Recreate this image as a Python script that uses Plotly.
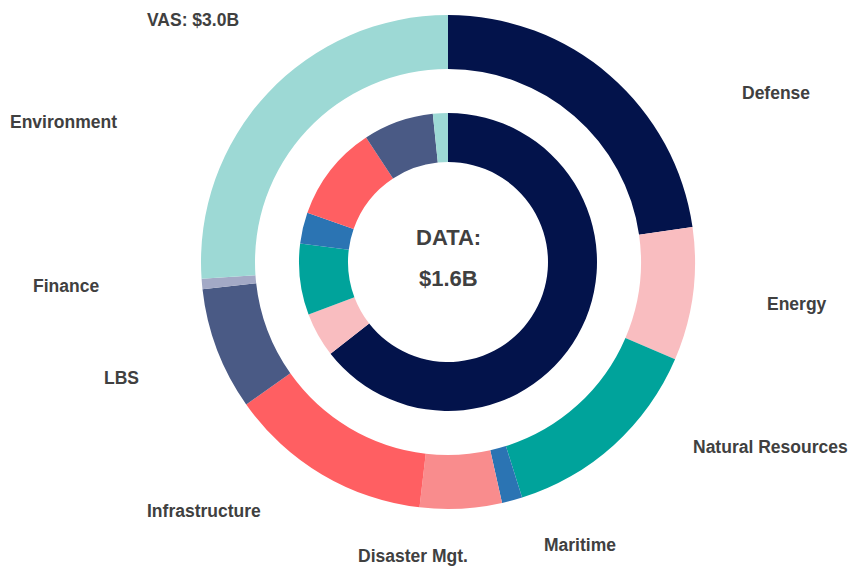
import plotly.graph_objects as go

W, H = 849, 569

categories = ["Defense", "Energy", "Natural Resources", "Maritime", "Disaster Mgt.",
              "Infrastructure", "LBS", "Finance", "Environment"]
vas_values = [0.68, 0.26, 0.41, 0.04, 0.16, 0.40, 0.24, 0.02, 0.78]      # $B, outer ring (VAS: $3.0B)
data_values = [1.03, 0.077, 0.123, 0.054, 0.0, 0.166, 0.122, 0.0, 0.026]  # $B, inner ring (DATA: $1.6B)
colors = ["#03134B", "#F9BDC0", "#00A39B", "#2B74B3", "#F98C8D",
          "#FF5F62", "#4A5A85", "#A3A9C6", "#9DD9D5"]

vas_title = "VAS: $3.0B"
data_title = ["DATA:", "$1.6B"]

# label anchor positions (px)
label_pos = {
    "Defense": (776, 93),
    "Energy": (797, 304),
    "Natural Resources": (770, 447),
    "Maritime": (580, 545),
    "Disaster Mgt.": (413, 556),
    "Infrastructure": (204, 511),
    "LBS": (121, 378),
    "Finance": (66, 286),
    "Environment": (64, 122),
}

cx, cy = 448, 262
R_out, R_in = 247, 149


def dom(r):
    return dict(x=[(cx - r) / W, (cx + r) / W],
                y=[(H - cy - r) / H, (H - cy + r) / H])


fig = go.Figure()
fig.add_trace(go.Pie(labels=categories, values=vas_values, hole=193 / 247,
                     sort=False, direction="clockwise", rotation=0,
                     marker=dict(colors=colors, line=dict(width=0)),
                     textinfo="none", domain=dom(R_out), showlegend=False))
fig.add_trace(go.Pie(labels=categories, values=data_values, hole=100 / 149,
                     sort=False, direction="clockwise", rotation=0,
                     marker=dict(colors=colors, line=dict(width=0)),
                     textinfo="none", domain=dom(R_in), showlegend=False))

font_lbl = dict(family="Liberation Sans, Arial, sans-serif", size=17.5, color="#404040")
ann = []
for c in categories:
    px, py = label_pos[c]
    ann.append(dict(x=px / W, y=1 - py / H, xref="paper", yref="paper",
                    text="<b>%s</b>" % c, showarrow=False, font=font_lbl,
                    xanchor="center", yanchor="middle"))
ann.append(dict(x=193 / W, y=1 - 20 / H, xref="paper", yref="paper",
                text="<b>%s</b>" % vas_title, showarrow=False, font=font_lbl,
                xanchor="center", yanchor="middle"))
font_c = dict(family="Liberation Sans, Arial, sans-serif", size=22, color="#404040")
for t, py in zip(data_title, [237, 278]):
    ann.append(dict(x=cx / W, y=1 - py / H, xref="paper", yref="paper",
                    text="<b>%s</b>" % t, showarrow=False, font=font_c,
                    xanchor="center", yanchor="middle"))

fig.update_layout(width=W, height=H, margin=dict(l=0, r=0, t=0, b=0),
                  paper_bgcolor="white", plot_bgcolor="white",
                  annotations=ann)
fig.write_html("out.html", config={"displayModeBar": False},
               post_script="document.body.style.margin='0';document.body.style.overflow='hidden';")
